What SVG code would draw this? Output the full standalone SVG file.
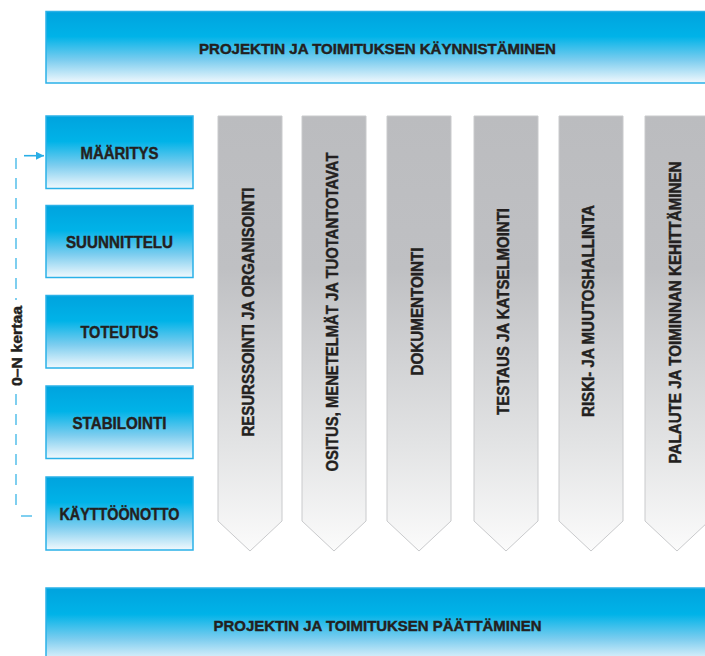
<svg xmlns="http://www.w3.org/2000/svg" width="705" height="656" viewBox="0 0 705 656">
<defs>
<linearGradient id="blue" x1="0" y1="0" x2="0" y2="1">
<stop offset="0" stop-color="#00a3de"/>
<stop offset="0.35" stop-color="#00b3e8"/>
<stop offset="0.68" stop-color="#7ccdef"/>
<stop offset="1" stop-color="#f2f9fd"/>
</linearGradient>
<linearGradient id="grey" x1="0" y1="0" x2="0" y2="1">
<stop offset="0" stop-color="#bbbcbf"/>
<stop offset="0.35" stop-color="#bfc0c3"/>
<stop offset="0.75" stop-color="#e2e3e4"/>
<stop offset="1" stop-color="#fbfbfb"/>
</linearGradient>
<marker id="arr" viewBox="0 0 10 10" refX="10" refY="5" markerWidth="8" markerHeight="8" markerUnits="userSpaceOnUse" orient="auto">
<path d="M0,0 L10,5 L0,10 z" fill="#29aee6"/>
</marker>
</defs>
<style>
.bx{fill:url(#blue);stroke:#2ab1e8;stroke-width:1.5}
.col{fill:url(#grey);stroke:#c9cacc;stroke-width:1}
.t{font-family:"Liberation Sans",Arial,sans-serif;font-weight:bold;font-size:16.5px;fill:#231f20;stroke:#231f20;stroke-width:0.45;text-anchor:middle}
.tb{font-size:15.5px}
.dash{fill:none;stroke:#5fc3ec;stroke-width:1.6;stroke-dasharray:11 9}
</style>
<rect width="705" height="656" fill="#ffffff"/>

<g id="start">
<rect class="bx" x="46" y="11.5" width="665" height="71.5"/>
<text class="t tb" x="377.5" y="54.3" textLength="357" lengthAdjust="spacingAndGlyphs">PROJEKTIN JA TOIMITUKSEN KÄYNNISTÄMINEN</text>
</g>

<g id="maaritys">
<rect class="bx" x="46" y="116" width="147" height="72.5"/>
<text class="t" x="119.5" y="158.5" textLength="78" lengthAdjust="spacingAndGlyphs">MÄÄRITYS</text>
</g>
<g id="suunnittelu">
<rect class="bx" x="46" y="205.5" width="147" height="72"/>
<text class="t" x="119.5" y="248" textLength="107" lengthAdjust="spacingAndGlyphs">SUUNNITTELU</text>
</g>
<g id="toteutus">
<rect class="bx" x="46" y="295.5" width="147" height="72.5"/>
<text class="t" x="119.5" y="337.8" textLength="78" lengthAdjust="spacingAndGlyphs">TOTEUTUS</text>
</g>
<g id="stabilointi">
<rect class="bx" x="46" y="386" width="147" height="72.5"/>
<text class="t" x="119.5" y="429" textLength="94" lengthAdjust="spacingAndGlyphs">STABILOINTI</text>
</g>
<g id="kayttoonotto">
<rect class="bx" x="46" y="477" width="147" height="73"/>
<text class="t" x="119.5" y="519.5" textLength="120" lengthAdjust="spacingAndGlyphs">KÄYTTÖÖNOTTO</text>
</g>

<g id="col1">
<path class="col" d="M218,116 H282 V521 L250,551 L218,521 Z"/>
<text class="t" transform="translate(254.3,312) rotate(-90)" textLength="249" lengthAdjust="spacingAndGlyphs" x="0" y="0">RESURSSOINTI  JA ORGANISOINTI</text>
</g>
<g id="col2">
<path class="col" d="M302,116 H366 V521 L334,551 L302,521 Z"/>
<text class="t" transform="translate(337.7,312) rotate(-90)" textLength="319" lengthAdjust="spacingAndGlyphs" x="0" y="0">OSITUS, MENETELMÄT JA TUOTANTOTAVAT</text>
</g>
<g id="col3">
<path class="col" d="M387,116 H451 V521 L419,551 L387,521 Z"/>
<text class="t" transform="translate(422.6,311.5) rotate(-90)" textLength="128" lengthAdjust="spacingAndGlyphs" x="0" y="0">DOKUMENTOINTI</text>
</g>
<g id="col4">
<path class="col" d="M474,116 H538 V521 L506,551 L474,521 Z"/>
<text class="t" transform="translate(509.2,311.5) rotate(-90)" textLength="207" lengthAdjust="spacingAndGlyphs" x="0" y="0">TESTAUS JA KATSELMOINTI</text>
</g>
<g id="col5">
<path class="col" d="M559,116 H623 V521 L591,551 L559,521 Z"/>
<text class="t" transform="translate(594.2,311) rotate(-90)" textLength="212" lengthAdjust="spacingAndGlyphs" x="0" y="0">RISKI- JA MUUTOSHALLINTA</text>
</g>
<g id="col6">
<path class="col" d="M645,116 H709 V521 L677,551 L645,521 Z"/>
<text class="t" transform="translate(680.9,312.5) rotate(-90)" textLength="302" lengthAdjust="spacingAndGlyphs" x="0" y="0">PALAUTE JA TOIMINNAN KEHITTÄMINEN</text>
</g>

<g id="end">
<rect class="bx" x="46" y="588" width="665" height="75"/>
<text class="t tb" x="377.5" y="631" textLength="328" lengthAdjust="spacingAndGlyphs">PROJEKTIN JA TOIMITUKSEN PÄÄTTÄMINEN</text>
</g>

<g id="loop-label">
<text class="t" style="font-size:15px" transform="translate(21.5,346) rotate(-90)" textLength="80" lengthAdjust="spacingAndGlyphs" x="0" y="0">0–N kertaa</text>
</g>

<g id="connectors">
<path class="dash" d="M16,158 V300"/>
<path class="dash" d="M16,394 V511"/>
<path d="M21,516 H32" fill="none" stroke="#5fc3ec" stroke-width="1.6"/>
<path d="M24,155.7 H44" fill="none" stroke="#29aee6" stroke-width="1.6" marker-end="url(#arr)"/>
</g>
</svg>
